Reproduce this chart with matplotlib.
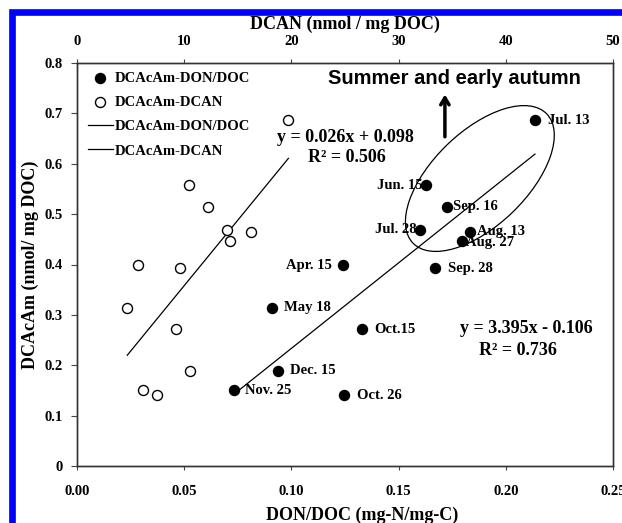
import matplotlib
matplotlib.use("Agg")
import matplotlib.pyplot as plt
import matplotlib.transforms as mtransforms
from matplotlib.patches import Ellipse, Rectangle

plt.rcParams['font.family'] = ['Liberation Serif', 'DejaVu Serif']
plt.rcParams['font.weight'] = 'bold'
plt.rcParams['axes.labelweight'] = 'bold'

# sampling dates
dates = ['Apr. 15', 'May 18', 'Jun. 15', 'Jul. 13', 'Jul. 28', 'Aug. 13', 'Aug. 27',
         'Sep. 16', 'Sep. 28', 'Oct.15', 'Oct. 26', 'Nov. 25', 'Dec. 15']
# DON/DOC (mg-N/mg-C)
don_doc = [0.1242, 0.0909, 0.1630, 0.2136, 0.1601, 0.1833, 0.1794,
           0.1724, 0.1668, 0.1329, 0.1244, 0.0730, 0.0939]
# DCAcAm (nmol/mg DOC)
dcacam = [0.399, 0.314, 0.557, 0.686, 0.469, 0.4655, 0.446,
          0.515, 0.393, 0.271, 0.1405, 0.151, 0.189]
# DCAN (nmol/mg DOC)
dcan = [5.68, 4.69, 10.44, 19.72, 14.01, 16.24, 14.26,
        12.26, 9.60, 9.23, 7.48, 6.15, 10.56]

# fits shown on the chart
fit1 = (3.395, -0.106)   # DCAcAm vs DON/DOC
fit2 = (0.026, 0.098)    # DCAcAm vs DCAN

# label placement (pixel offset, alignment)
lab_dx = [-11, 12, -4, 13, -4, 7, 4, 6, 13, 12, 13, 11, 12]
lab_dy = [0, 0, 0, 0, 0, 0, -1, 0, 0, 0, 0, -1, 0]
lab_ha = ['right', 'left', 'right', 'left', 'right', 'left', 'left',
          'left', 'left', 'left', 'left', 'left', 'left']

fig = plt.figure(figsize=(6.22, 5.23), dpi=100)
ax = fig.add_axes([77/622, 1-466/523, 536/622, 403/523])
ax2 = ax.twiny()

ax.scatter(don_doc, dcacam, s=52, color='k', zorder=3, label='DCAcAm-DON/DOC')
ax2.scatter(dcan, dcacam, s=52, facecolor='white', edgecolor='k', lw=1, zorder=3,
            label='DCAcAm-DCAN')

x1 = [min(don_doc), max(don_doc)]
ax.plot(x1, [fit1[0]*v + fit1[1] for v in x1], color='k', lw=0.9, label='DCAcAm-DON/DOC')
x2 = [min(dcan), max(dcan)]
ax2.plot(x2, [fit2[0]*v + fit2[1] for v in x2], color='k', lw=0.9, label='DCAcAm-DCAN')

for i in range(len(dates)):
    ax.annotate(dates[i], (don_doc[i], dcacam[i]), xytext=(lab_dx[i]*0.72, lab_dy[i]*0.72),
                textcoords='offset points', ha=lab_ha[i], va='center', fontsize=10.5)

ax.set_xlim(0, 0.25)
ax.set_ylim(0, 0.8)
ax2.set_xlim(0, 50)

ax.set_xticks([0, 0.05, 0.10, 0.15, 0.20, 0.25])
ax.set_xticklabels(['0.00', '0.05', '0.10', '0.15', '0.20', '0.25'])
ax.set_yticks([0, 0.1, 0.2, 0.3, 0.4, 0.5, 0.6, 0.7, 0.8])
ax.set_yticklabels(['0', '0.1', '0.2', '0.3', '0.4', '0.5', '0.6', '0.7', '0.8'])
ax2.set_xticks([0, 10, 20, 30, 40, 50])

ax.tick_params(axis='x', direction='out', length=3, pad=11, labelsize=10.5, color='#444444')
ax.tick_params(axis='y', direction='out', length=4, pad=6, labelsize=10.5, color='#444444')
ax2.tick_params(axis='x', direction='out', length=3, pad=7.5, labelsize=10.5, color='#444444')
for a in (ax, ax2):
    for sp in a.spines.values():
        sp.set_color('#333333')
        sp.set_linewidth(1)

ax.set_xlabel('DON/DOC (mg-N/mg-C)', fontsize=13)
ax.xaxis.set_label_coords(0.532, -0.100)
ax.set_ylabel('DCAcAm (nmol/ mg DOC)', fontsize=13, labelpad=4)
ax2.set_xlabel('DCAN (nmol / mg DOC)', fontsize=13, labelpad=5)

h1, l1 = ax.get_legend_handles_labels()
h2, l2 = ax2.get_legend_handles_labels()
handles = [h1[0], h2[0], h1[1], h2[1]]
labels = [l1[0], l2[0], l1[1], l2[1]]
ax2.legend(handles, labels, loc='upper left', bbox_to_anchor=(0.02, 0.978), frameon=False,
           fontsize=10.5, handlelength=1.7, handletextpad=0.15, labelspacing=0.75,
           borderpad=0, borderaxespad=0)

# equations
ax.text(0.125, 0.652, 'y = 0.026x + 0.098', ha='center', va='center', fontsize=13)
ax.text(0.126, 0.6125, 'R² = 0.506', ha='center', va='center', fontsize=13)
ax.text(0.2097, 0.2724, 'y = 3.395x - 0.106', ha='center', va='center', fontsize=13)
ax.text(0.2056, 0.2293, 'R² = 0.736', ha='center', va='center', fontsize=13)

# summer group
ax.text(0.176, 0.770, 'Summer and early autumn', ha='center', va='center', fontsize=14.5,
        family=['Liberation Sans', 'DejaVu Sans'], fontweight='bold')
ax.annotate('', xy=(0.1716, 0.743), xytext=(0.1716, 0.648),
            arrowprops=dict(arrowstyle='->,head_width=0.3,head_length=0.5', lw=2.5, color='k'))
trans = fig.dpi_scale_trans + mtransforms.ScaledTranslation(0.1879, 0.5707, ax.transData)
ax.add_patch(Ellipse((0, 0), 1.86, 0.94, angle=44, fill=False, edgecolor='k', lw=0.9,
                     transform=trans))

# blue frame
fig.add_artist(Rectangle((11.7/622, -0.5), 2, 1.5 - 11.7/523, fill=False,
                         edgecolor='#0000ff', lw=4.8, transform=fig.transFigure))

plt.savefig('out.png', dpi=100)
